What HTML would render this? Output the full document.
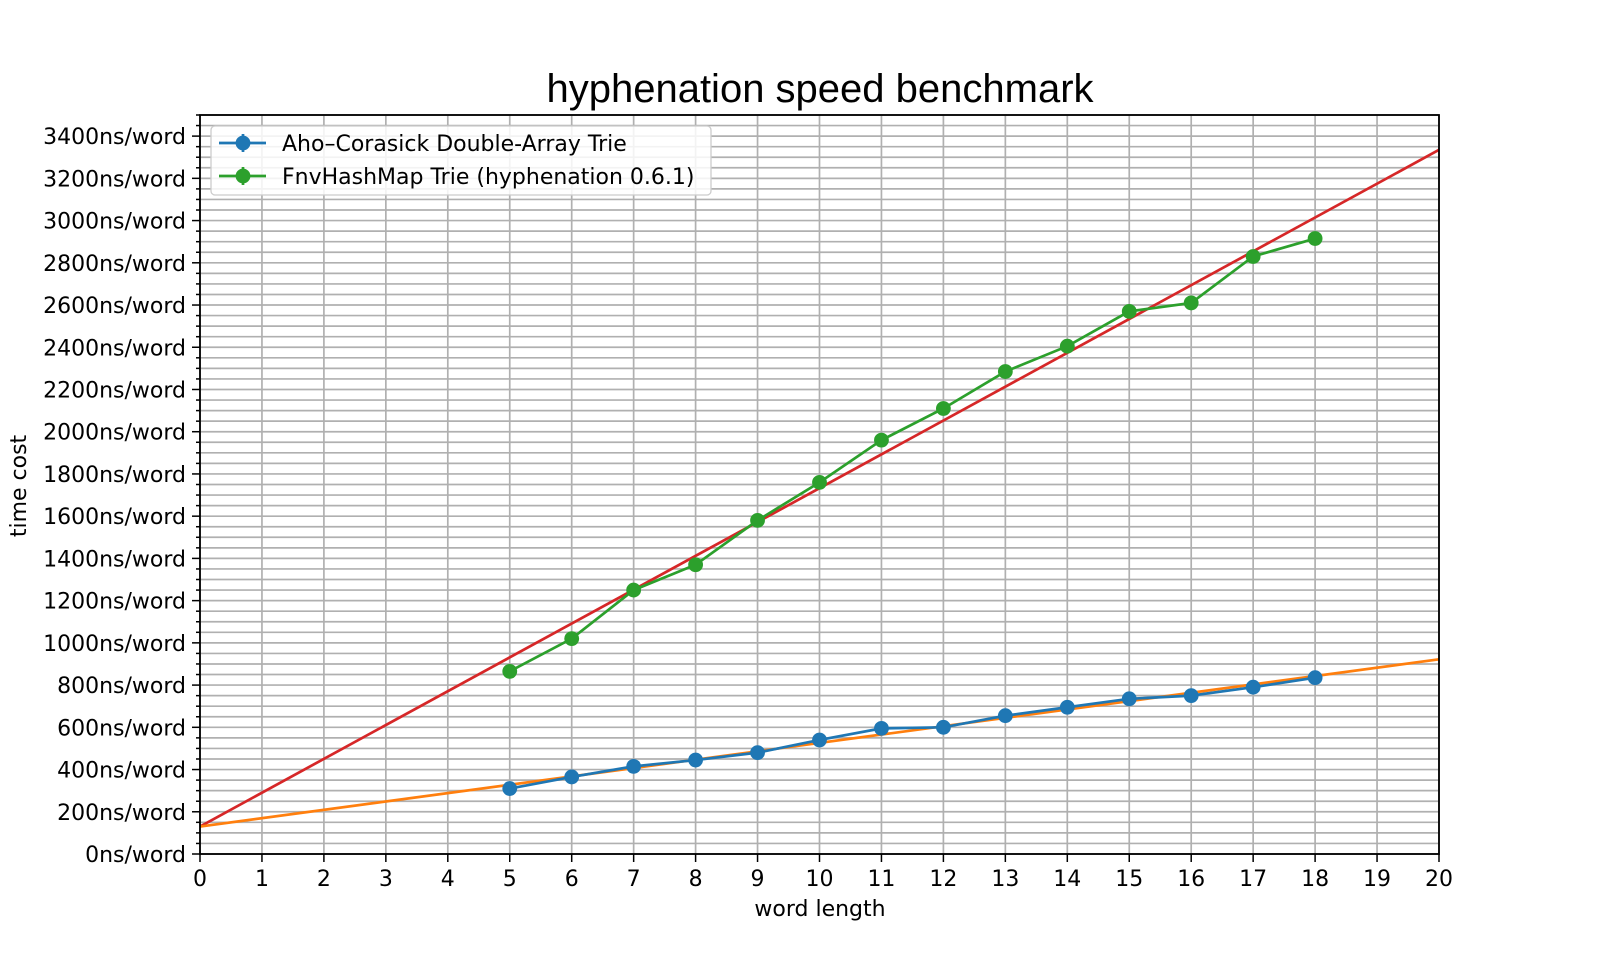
<!DOCTYPE html>
<html><head><meta charset="utf-8"><style>
html,body{margin:0;padding:0;background:#fff;}
svg{display:block;font-family:"DejaVu Sans","Liberation Sans",sans-serif;}
</style></head><body>
<svg id="chart" width="1600" height="960" viewBox="0 0 1600 960"></svg>
<script>
const xCats=[5,6,7,8,9,10,11,12,13,14,15,16,17,18];
const ahoValues=[310,365,415,445,480,540,595,600,655,695,735,750,790,835];
const fnvValues=[865,1020,1250,1370,1580,1760,1960,2110,2285,2405,2570,2610,2830,2915];
const redFit=[130,3335];
const orangeFit=[130,922];
const xTicks=[0,1,2,3,4,5,6,7,8,9,10,11,12,13,14,15,16,17,18,19,20];
const yTicks=[0,200,400,600,800,1000,1200,1400,1600,1800,2000,2200,2400,2600,2800,3000,3200,3400];

const L=200,R=1439,T=115,B=854,XMAX=20,YMAX=3500;
const sx=v=>L+(R-L)*v/XMAX;
const sy=v=>B-(B-T)*v/YMAX;
const NS="http://www.w3.org/2000/svg";
const svg=document.getElementById('chart');
function mk(tag,attrs,parent){const e=document.createElementNS(NS,tag);for(const k in attrs)e.setAttribute(k,attrs[k]);(parent||svg).appendChild(e);return e;}

const grid=mk('g',{});


for(let v=0;v<=YMAX;v+=50){mk('line',{x1:L,x2:R,y1:sy(v),y2:sy(v),stroke:'#b0b0b0','stroke-width':1.7},grid);}
xTicks.forEach(v=>mk('line',{x1:sx(v),x2:sx(v),y1:T,y2:B,stroke:'#b0b0b0','stroke-width':1.7},grid));

const fits=mk('g',{});


const rl=mk('line',{x1:sx(0),y1:sy(redFit[0]),x2:sx(XMAX),y2:sy(redFit[1]),stroke:'#d62728','stroke-width':2.7},fits);


const ol=mk('line',{x1:sx(0),y1:sy(orangeFit[0]),x2:sx(XMAX),y2:sy(orangeFit[1]),stroke:'#ff7f0e','stroke-width':2.7},fits);



function series(vals,color,name){
  const g=mk('g',{});
  
  
  mk('polyline',{points:xCats.map((x,i)=>sx(x)+','+sy(vals[i])).join(' '),fill:'none',stroke:color,'stroke-width':2.7},g);
  xCats.forEach((x,i)=>{const c=mk('circle',{cx:sx(x),cy:sy(vals[i]),r:7.4,fill:color},g);
    
    });
}
series(ahoValues,'#1f77b4','aho-series');
series(fnvValues,'#2ca02c','fnv-series');

const ax=mk('g',{});


mk('rect',{x:L,y:T,width:R-L,height:B-T,fill:'none',stroke:'#000','stroke-width':1.8},ax);
for(let v=0;v<=YMAX;v+=50){mk('line',{x1:L,x2:L-(v%200===0?8:4),y1:sy(v),y2:sy(v),stroke:'#000','stroke-width':1.5},ax);}
yTicks.forEach(v=>{const t=mk('text',{x:L-14,y:sy(v)+8,'text-anchor':'end','font-size':22,fill:'#000'},ax);t.textContent=v+'ns/word';
  
  });
xTicks.forEach(v=>{mk('line',{x1:sx(v),x2:sx(v),y1:B,y2:B+8,stroke:'#000','stroke-width':1.5},ax);
  const t=mk('text',{x:sx(v),y:B+32,'text-anchor':'middle','font-size':22,fill:'#000'},ax);t.textContent=v;
  
  });
</script>
<svg style="position:absolute;left:0;top:0" width="1600" height="960">
<text x="820" y="102" text-anchor="middle" font-size="40" font-family="Liberation Sans, sans-serif">hyphenation speed benchmark</text>
<text x="820" y="916" text-anchor="middle" font-size="22" font-family="DejaVu Sans, sans-serif">word length</text>
<text transform="translate(26,486) rotate(-90)" text-anchor="middle" font-size="22" font-family="DejaVu Sans, sans-serif">time cost</text>
<g font-family="DejaVu Sans, sans-serif" font-size="22">
<rect x="211" y="126" width="500" height="69" rx="4" fill="#fff" fill-opacity="0.85" stroke="#ccc" stroke-width="1.3"/>
<g>
<line x1="219" x2="266" y1="143" y2="143" stroke="#1f77b4" stroke-width="2.7"/>
<line x1="243" x2="243" y1="134" y2="152" stroke="#1f77b4" stroke-width="2.7"/>
<circle cx="243" cy="143" r="7.4" fill="#1f77b4"/>
<text x="282" y="151">Aho–Corasick Double-Array Trie</text></g>
<g>
<line x1="219" x2="266" y1="176" y2="176" stroke="#2ca02c" stroke-width="2.7"/>
<line x1="243" x2="243" y1="167" y2="185" stroke="#2ca02c" stroke-width="2.7"/>
<circle cx="243" cy="176" r="7.4" fill="#2ca02c"/>
<text x="282" y="184">FnvHashMap Trie (hyphenation 0.6.1)</text></g>
</g>
</svg>
</body></html>
